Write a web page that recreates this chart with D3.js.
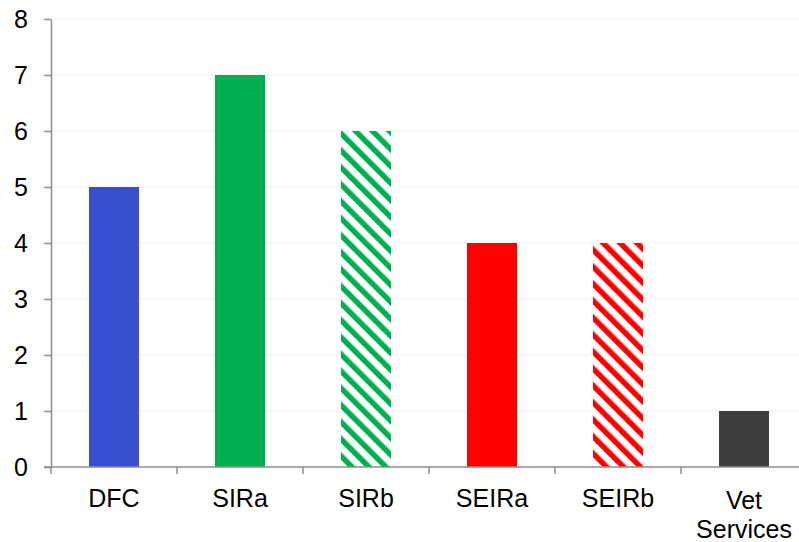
<!DOCTYPE html>
<html>
<head>
<meta charset="utf-8">
<script src="https://cdn.jsdelivr.net/npm/d3@7"></script>
<style>
  html, body { margin: 0; padding: 0; background: #fff; }
  svg { display: block; font-family: "Liberation Sans", Arial, sans-serif; }
</style>
</head>
<body>
<svg id="chart" width="799" height="542"></svg>
<script>
// Model categories and their counts
const categories = ["DFC", "SIRa", "SIRb", "SEIRa", "SEIRb", "Vet Services"];
const values = [5, 7, 6, 4, 4, 1];
const yTicks = [0, 1, 2, 3, 4, 5, 6, 7, 8];

// Fill style per category: solid colour or striped
const barColors = ["#3a4ed0", "#00b050", "#00b050", "#ff0000", "#ff0000", "#3d3d3d"];
const striped = [false, false, true, false, true, false];

const svg = d3.select("#chart");
const plotLeft = 51, plotRight = 807, plotTop = 19, plotBottom = 467;

const x = d3.scaleBand().domain(categories).range([plotLeft, plotRight]).padding(0);
const y = d3.scaleLinear().domain([0, 8]).range([plotBottom, plotTop]);
const barW = 50;

// Diagonal stripe patterns
const defs = svg.append("defs");
["#00b050", "#ff0000"].forEach((c, i) => {
  const p = defs.append("pattern")
    .attr("id", "stripe" + i)
    .attr("patternUnits", "userSpaceOnUse")
    .attr("width", 12).attr("height", 12)
    .attr("patternTransform", "rotate(-45)");
  p.append("rect").attr("width", 12).attr("height", 12).attr("fill", "#fff");
  p.append("rect").attr("width", 5.5).attr("height", 12).attr("fill", c);
});
function fillFor(i) {
  if (!striped[i]) return barColors[i];
  return barColors[i] === "#00b050" ? "url(#stripe0)" : "url(#stripe1)";
}

// Faint horizontal gridlines
svg.append("g").selectAll("line")
  .data(yTicks.filter(d => d > 0))
  .join("line")
  .attr("x1", plotLeft).attr("x2", plotRight)
  .attr("y1", d => y(d)).attr("y2", d => y(d))
  .attr("stroke", "#f0f0f0").attr("stroke-width", 1);

// Bars
svg.append("g").selectAll("rect")
  .data(categories)
  .join("rect")
  .attr("x", d => x(d) + (x.bandwidth() - barW) / 2)
  .attr("width", barW)
  .attr("y", (d, i) => y(values[i]))
  .attr("height", (d, i) => y(0) - y(values[i]))
  .attr("fill", (d, i) => fillFor(i));

// Y axis
const yAxis = svg.append("g")
  .attr("transform", `translate(${plotLeft},0)`)
  .call(d3.axisLeft(y).tickValues(yTicks).tickSize(7).tickPadding(16).tickSizeOuter(0));
yAxis.select(".domain").attr("stroke", "#8c8c8c").attr("stroke-width", 1.5);
yAxis.selectAll(".tick line").attr("stroke", "#8c8c8c").attr("stroke-width", 1.5);
yAxis.selectAll(".tick text")
  .attr("fill", "#000").attr("font-size", 25)
  .attr("font-family", "Liberation Sans, Arial, sans-serif");

// X axis: line with ticks at category boundaries
const xg = svg.append("g");
xg.append("line")
  .attr("x1", plotLeft - 7).attr("x2", plotRight)
  .attr("y1", plotBottom).attr("y2", plotBottom)
  .attr("stroke", "#8c8c8c").attr("stroke-width", 1.5);
xg.selectAll("line.bt")
  .data(categories)
  .join("line")
  .attr("class", "bt")
  .attr("x1", d => x(d)).attr("x2", d => x(d))
  .attr("y1", plotBottom).attr("y2", plotBottom + 7)
  .attr("stroke", "#8c8c8c").attr("stroke-width", 1.5);

// Category labels (split into lines on spaces)
const labels = xg.selectAll("text")
  .data(categories)
  .join("text")
  .attr("text-anchor", "middle")
  .attr("font-size", 25)
  .attr("fill", "#000");
labels.each(function(d) {
  const words = d.split(" ");
  const t = d3.select(this);
  const firstBase = words.length > 1 ? 509 : 507;
  words.forEach((w, k) => {
    t.append("tspan")
      .attr("x", x(d) + x.bandwidth() / 2)
      .attr("y", firstBase + k * 29)
      .text(w);
  });
});
</script>
</body>
</html>
